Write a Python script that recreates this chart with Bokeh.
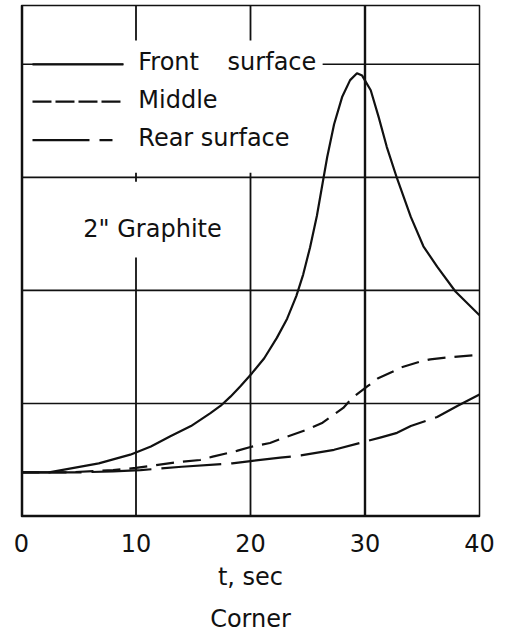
from bokeh.plotting import figure
from bokeh.models import Label, Span, Title, Range1d
from bokeh.embed import file_html
from bokeh.resources import INLINE

# ---- data ----
front_t = [0, 2.4, 6.75, 9.5, 11.3, 13.0, 14.8, 16.5, 17.4, 18.25, 19.1, 20.15, 21.2, 22.3, 23.2, 24.0,
           24.6, 25.2, 25.8, 26.3, 26.7, 27.3, 28.0, 28.7, 29.3, 29.75, 30.5, 31.2, 31.9, 32.8, 34.0, 35.1,
           36.3, 37.9, 40]
front_v = [0.39, 0.39, 0.47, 0.547, 0.62, 0.71, 0.80, 0.915, 0.98, 1.06, 1.15, 1.27, 1.40, 1.58, 1.75, 1.95,
           2.14, 2.38, 2.66, 2.95, 3.18, 3.47, 3.71, 3.86, 3.92, 3.90, 3.77, 3.53, 3.27, 2.99, 2.65, 2.39,
           2.21, 1.99, 1.78]

middle_t = [0, 4, 8, 10, 13.6, 15.6, 16.7, 18.8, 20, 21.7, 23, 25, 26.3, 28.1, 28.9, 30.2, 31.1, 32.4, 33.2,
            34.8, 35.7, 37.5, 40]
middle_v = [0.39, 0.39, 0.41, 0.43, 0.48, 0.50, 0.53, 0.58, 0.615, 0.65, 0.70, 0.77, 0.83, 0.96, 1.05, 1.15,
            1.22, 1.28, 1.32, 1.37, 1.39, 1.41, 1.43]

rear_t = [0, 5, 8, 10.4, 14, 18.4, 20, 22.6, 24.4, 27.3, 29.9, 31.4, 32.8, 34, 36.3, 38.1, 40]
rear_v = [0.39, 0.39, 0.40, 0.41, 0.44, 0.47, 0.49, 0.52, 0.54, 0.59, 0.66, 0.70, 0.74, 0.80, 0.88, 0.98, 1.08]

x_ticks = [0, 10, 20, 30, 40]

# ---- layout constants ----
X_MAX = 40
Y_MAX = 4.52
FONT = "DejaVu Sans"
FS = "24px"
INK = "#111111"

p = figure(width=505, height=642, output_backend="svg", toolbar_location=None,
           x_range=Range1d(0, X_MAX), y_range=Range1d(0, Y_MAX),
           min_border_left=21, min_border_right=26, min_border_top=5,
           min_border_bottom=125)
p.background_fill_color = "white"
p.border_fill_color = "white"
p.outline_line_color = INK
p.outline_line_width = 1.5
p.xgrid.visible = False
p.ygrid.visible = False
p.yaxis.visible = False

ax = p.xaxis[0]
ax.ticker = x_ticks
ax.axis_line_color = None
ax.major_tick_line_color = None
ax.minor_tick_line_color = None
ax.major_label_standoff = 11
ax.major_label_text_font = FONT
ax.major_label_text_font_size = FS
ax.major_label_text_color = INK
ax.axis_label = "t, sec"
ax.axis_label_text_font = FONT
ax.axis_label_text_font_size = FS
ax.axis_label_text_font_style = "normal"
ax.axis_label_text_color = INK
ax.axis_label_standoff = 8

# grid lines drawn as segments (gaps where lettering sits)
hx0 = [0, 0, 0, 0, 26.3]
hx1 = [40, 40, 40, 8.9, 40]
hy = [1, 2, 3, 4, 4]
p.segment(x0=hx0, y0=hy, x1=hx1, y1=hy, line_color=INK, line_width=1.6)
vx = [10, 10, 10, 20, 20, 30]
vy0 = [Y_MAX, 3.04, 2.29, Y_MAX, 3.04, Y_MAX]
vy1 = [4.21, 2.96, 0, 4.21, 0, 0]
p.segment(x0=vx, y0=vy0, x1=vx, y1=vy1, line_color=INK, line_width=[1.8, 1.8, 1.8, 1.8, 1.8, 2.4])

# thick left & bottom borders
p.add_layout(Span(location=0, dimension="height", line_color=INK, line_width=3.5))
p.add_layout(Span(location=0, dimension="width", line_color=INK, line_width=3.5))

# curves
p.line(front_t, front_v, line_color=INK, line_width=2.2, line_join="round")
p.line(middle_t, middle_v, line_color=INK, line_width=2.2, line_dash="18 9", line_join="round")
p.line(rear_t, rear_v, line_color=INK, line_width=2.2, line_dash="60 10", line_join="round")

# legend samples
p.line([0.96, 8.9], [4.0, 4.0], line_color=INK, line_width=2.2)
p.line([0.96, 8.9], [3.67, 3.67], line_color=INK, line_width=2.2, line_dash="19 4")
p.line([0.96, 8.9], [3.33, 3.33], line_color=INK, line_width=2.2, line_dash="57 10 13 100")

def txt(x, y, s):
    p.add_layout(Label(x=x, y=y, text=s, text_font=FONT, text_font_size=FS,
                       text_color=INK, text_align="left", text_baseline="middle"))

txt(10.2, 4.02, "Front")
txt(18.0, 4.02, "surface")
txt(10.2, 3.68, "Middle")
txt(10.2, 3.35, "Rear surface")
txt(5.4, 2.54, "2\" Graphite")

p.add_layout(Title(text="Corner", align="center", text_font=FONT, text_font_size=FS,
                   text_font_style="normal", text_color=INK, standoff=19), "below")

open("out.html", "w").write(file_html(p, INLINE))
